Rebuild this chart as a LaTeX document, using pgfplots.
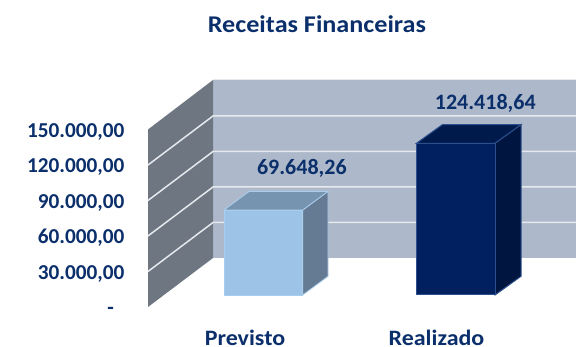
\documentclass[border=0pt]{standalone}
\usepackage{pgfplots}
\pgfplotsset{compat=1.18}
\usepackage{fontspec}
\setmainfont{Carlito}
\newfontfamily\widefont{Carlito}[FakeStretch=1.09]
\definecolor{txt}{HTML}{0B2F6B}
\definecolor{backw}{HTML}{ADB9CA}
\definecolor{leftw}{HTML}{6E7682}
\definecolor{gridc}{HTML}{E6E9EE}
\definecolor{lfront}{HTML}{9DC3E6}
\definecolor{lside}{HTML}{657B93}
\definecolor{ltop}{HTML}{7693AF}
\definecolor{ledge}{HTML}{A9CDEC}
\definecolor{dfront}{HTML}{002060}
\definecolor{dside}{HTML}{00153F}
\definecolor{dtop}{HTML}{001A4C}
\definecolor{dedge}{HTML}{2B4F8C}
\begin{document}
\begin{tikzpicture}
\path[use as bounding box] (0,0) rectangle (576pt,347pt);
% walls and value axis: y=0 on the front edge of the left wall
\begin{axis}[
  at={(0,0)}, anchor=south west, scale only axis,
  width=576pt, height=347pt,
  xmin=0, xmax=576, ymin=-33803, ymax=259437,
  axis line style={draw=none}, major tick length=0pt,
  clip=false, scaled y ticks=false,
  ytick={0,30000,60000,90000,120000,150000},
  yticklabels={{\makebox[17pt][l]{\raisebox{-3pt}[6pt][0pt]{-}}},{30.000,00},{60.000,00},{90.000,00},{120.000,00},{150.000,00}},
  yticklabel style={font=\fontsize{21.25}{21.25}\selectfont\bfseries, text=txt, anchor=east, xshift=128pt, yshift=-2pt},
  xtick={245,436.5},
  xticklabels={Previsto,Realizado},
  xticklabel style={font=\widefont\fontsize{22}{22}\selectfont\bfseries, text=txt, anchor=center, yshift=9pt},
  title={Receitas Financeiras},
  title style={font=\widefont\fontsize{24}{24}\selectfont\bfseries, text=txt, at={(axis description cs:0.5503,0.9136)}, anchor=center},
]
\addplot[fill=backw, draw=none, mark=none] coordinates {(213,41408) (576,41408) (576,191831) (213,191831)} -- cycle;
\addplot[fill=leftw, draw=none, mark=none] coordinates {(148,0) (213,41408) (213,191831) (148,150000)} -- cycle;
\addplot[gridc, line width=1.5pt, mark=none] coordinates {(148,30000) (213,71408) (576,71408)};
\addplot[gridc, line width=1.5pt, mark=none] coordinates {(148,60000) (213,101408) (576,101408)};
\addplot[gridc, line width=1.5pt, mark=none] coordinates {(148,90000) (213,131408) (576,131408)};
\addplot[gridc, line width=1.5pt, mark=none] coordinates {(148,120000) (213,161408) (576,161408)};
\addplot[gridc, line width=1pt, mark=none] coordinates {(213,191831) (576,191831)};
\end{axis}
% bars: y=0 on the foot of the bars' front faces
\begin{axis}[
  at={(0,0)}, anchor=south west, scale only axis,
  width=576pt, height=347pt,
  xmin=0, xmax=576, ymin=-42640, ymax=241900,
  hide axis, clip=false,
]
\addplot[fill=lside, draw=ledge, line width=0.8pt, mark=none] coordinates {(302.7,0) (328,15334) (328,84982) (302.7,69648.26)} -- cycle;
\addplot[fill=ltop, draw=ledge, line width=0.8pt, mark=none] coordinates {(224,69648.26) (302.7,69648.26) (328,84982) (249.3,84982)} -- cycle;
\addplot[ybar, bar width=78.7, bar shift=0pt, fill=lfront, draw=ledge, line width=0.8pt,
  point meta=explicit symbolic, nodes near coords,
  every node near coord/.append style={font=\fontsize{22}{22}\selectfont\bfseries, text=txt, anchor=center, xshift=38.5pt, yshift=42pt}]
  coordinates {(263.35,69648.26)[69.648,26]};
\addplot[fill=dside, draw=dedge, line width=1pt, mark=none] coordinates {(495,0) (521,15334) (521,139752) (495,124418.64)} -- cycle;
\addplot[fill=dtop, draw=dedge, line width=1pt, mark=none] coordinates {(416.5,124418.64) (495,124418.64) (521,139752) (442.5,139752)} -- cycle;
\addplot[ybar, bar width=78.5, bar shift=0pt, fill=dfront, draw=dedge, line width=1pt,
  point meta=explicit symbolic, nodes near coords,
  every node near coord/.append style={font=\fontsize{22}{22}\selectfont\bfseries, text=txt, anchor=center, xshift=29.5pt, yshift=40pt}]
  coordinates {(455.75,124418.64)[124.418,64]};
\end{axis}
\end{tikzpicture}
\end{document}
